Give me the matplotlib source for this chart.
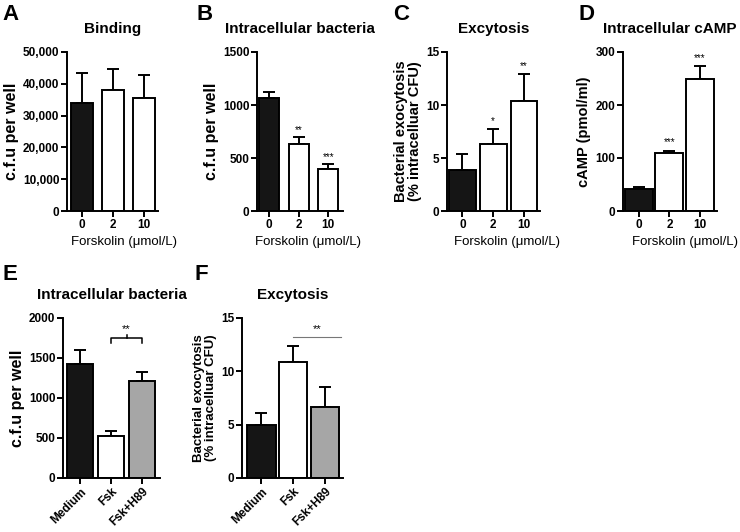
import matplotlib
matplotlib.use("Agg")
import matplotlib.pyplot as plt
import numpy as np

plt.rcParams['font.family'] = ['Liberation Sans', 'DejaVu Sans']

# ---- data ----
dose_labels = ["0", "2", "10"]
treat_labels = ["Medium", "Fsk", "Fsk+H89"]

binding_mean = [34000, 38000, 35500]
binding_err = [9500, 6700, 7200]

intra_mean = [1065, 630, 395]
intra_err = [55, 65, 45]
intra_sig = ["", "**", "***"]

exo_mean = [3.85, 6.35, 10.35]
exo_err = [1.5, 1.4, 2.55]
exo_sig = ["", "*", "**"]

camp_mean = [42, 110, 249]
camp_err = [3, 4, 24]
camp_sig = ["", "***", "***"]

intraE_mean = [1430, 520, 1210]
intraE_err = [170, 70, 110]

exoF_mean = [4.95, 10.85, 6.7]
exoF_err = [1.1, 1.5, 1.85]

colors3 = ["#151515", "#ffffff", "#a6a6a6"]

W, H = 740, 532
fig = plt.figure(figsize=(W / 100, H / 100), dpi=100)

TICK_FS = 8.5
XL_FS = 9.5
TITLE_FS = 11


def add_ax(left, right, top, bottom):
    return fig.add_axes([left / W, 1 - bottom / H, (right - left) / W, (bottom - top) / H])


def style(ax):
    for s in ["top", "right"]:
        ax.spines[s].set_visible(False)
    for s in ["left", "bottom"]:
        ax.spines[s].set_linewidth(1.4)
    ax.tick_params(direction="out", length=4, width=1.4, labelsize=TICK_FS, pad=1.5)
    for lab in ax.get_yticklabels() + ax.get_xticklabels():
        lab.set_fontweight("bold")


def bars(ax, means, errs, colors, width, xlim, ylim, yticks, ylabels=None, sig=None, sig_off=0):
    x = np.arange(len(means))
    ax.bar(x, means, width=width, color=colors, edgecolor="black", linewidth=1.4, zorder=2)
    ax.errorbar(x, means, yerr=[np.zeros(len(errs)), errs], fmt="none", ecolor="black",
                elinewidth=1.4, capsize=4.5, capthick=1.4, zorder=1)
    ax.set_xlim(*xlim)
    ax.set_ylim(*ylim)
    ax.set_yticks(yticks)
    if ylabels is not None:
        ax.set_yticklabels(ylabels)
    ax.set_xticks(x)
    if sig is not None:
        for xi, m, e, s in zip(x, means, errs, sig):
            if s:
                ax.text(xi, m + e + sig_off, s, ha="center", va="bottom", fontsize=7)
    style(ax)


def forskolin(cx):
    fig.text(cx / W, 1 - 242 / H, "Forskolin (\u03bcmol/L)", fontsize=XL_FS,
             ha="center", va="center")


# Panel A
axA = add_ax(67, 158, 52, 211)
bars(axA, binding_mean, binding_err, [colors3[0], colors3[1], colors3[1]], 0.71,
     (-0.48, 2.45), (0, 50000), [0, 10000, 20000, 30000, 40000, 50000],
     ["0", "10,000", "20,000", "30,000", "40,000", "50,000"])
axA.set_xticklabels(dose_labels, fontweight="bold")
axA.set_ylabel("c.f.u per well", fontsize=11.5, fontweight="bold", labelpad=3)
axA.set_title("Binding", fontsize=TITLE_FS, fontweight="bold", pad=14)
forskolin(124)

# Panel B
axB = add_ax(257, 343, 52, 211)
bars(axB, intra_mean, intra_err, [colors3[0], colors3[1], colors3[1]], 0.68,
     (-0.41, 2.5), (0, 1500), [0, 500, 1000, 1500], sig=intra_sig, sig_off=25)
axB.set_xticklabels(dose_labels, fontweight="bold")
axB.set_ylabel("c.f.u per well", fontsize=11.5, fontweight="bold", labelpad=3)
axB.set_title("Intracellular bacteria", fontsize=TITLE_FS, fontweight="bold", pad=14)
forskolin(308)

# Panel C
axC = add_ax(447, 540, 52, 211)
bars(axC, exo_mean, exo_err, [colors3[0], colors3[1], colors3[1]], 0.87,
     (-0.5, 2.52), (0, 15), [0, 5, 10, 15], sig=exo_sig, sig_off=0.3)
axC.set_xticklabels(dose_labels, fontweight="bold")
axC.set_ylabel("Bacterial exocytosis\n(% intracelluar CFU)", fontsize=10.5, fontweight="bold",
               labelpad=3, linespacing=1.0)
axC.set_title("Excytosis", fontsize=TITLE_FS, fontweight="bold", pad=14)
forskolin(507)

# Panel D
axD = add_ax(623, 717, 52, 211)
bars(axD, camp_mean, camp_err, [colors3[0], colors3[1], colors3[1]], 0.92,
     (-0.52, 2.56), (0, 300), [0, 100, 200, 300], sig=camp_sig, sig_off=6)
axD.set_xticklabels(dose_labels, fontweight="bold")
axD.set_ylabel("cAMP (pmol/ml)", fontsize=10.5, fontweight="bold", labelpad=3)
axD.set_title("Intracellular cAMP", fontsize=TITLE_FS, fontweight="bold", pad=14)
forskolin(685)

# Panel E
axE = add_ax(63, 160, 318, 478)
bars(axE, intraE_mean, intraE_err, colors3, 0.84,
     (-0.55, 2.58), (0, 2000), [0, 500, 1000, 1500, 2000])
axE.set_xticklabels(treat_labels, rotation=45, ha="right", rotation_mode="anchor",
                    fontweight="bold", fontsize=8.5)
axE.set_ylabel("c.f.u per well", fontsize=11.5, fontweight="bold", labelpad=3)
axE.set_title("Intracellular bacteria", fontsize=TITLE_FS, fontweight="bold", pad=14)
axE.plot([1, 1, 2, 2], [1690, 1750, 1750, 1690], color="black", lw=1.1, clip_on=False)
axE.plot([1.5, 1.5], [1750, 1785], color="black", lw=1.1, clip_on=False)
axE.text(1.5, 1800, "**", ha="center", va="bottom", fontsize=8)

# Panel F
axF = add_ax(242, 343, 318, 478)
bars(axF, exoF_mean, exoF_err, colors3, 0.9,
     (-0.61, 2.57), (0, 15), [0, 5, 10, 15])
axF.set_xticklabels(treat_labels, rotation=45, ha="right", rotation_mode="anchor",
                    fontweight="bold", fontsize=8.5)
axF.set_ylabel("Bacterial exocytosis\n(% intracelluar CFU)", fontsize=9.5, fontweight="bold",
               labelpad=3, linespacing=1.0)
axF.set_title("Excytosis", fontsize=TITLE_FS, fontweight="bold", pad=14)
axF.plot([1, 2.5], [13.2, 13.2], color="#777777", lw=0.8, clip_on=False)
axF.text(1.75, 13.5, "**", ha="center", va="bottom", fontsize=8)

# Panel letters
for lx, ly, letter in [(2, 14, "A"), (196, 14, "B"), (393, 14, "C"), (578, 14, "D"),
                       (2, 274, "E"), (194, 274, "F")]:
    fig.text(lx / W, 1 - ly / H, letter, fontsize=16, fontweight="bold", va="center", ha="left")

fig.savefig("out.png", dpi=100)
